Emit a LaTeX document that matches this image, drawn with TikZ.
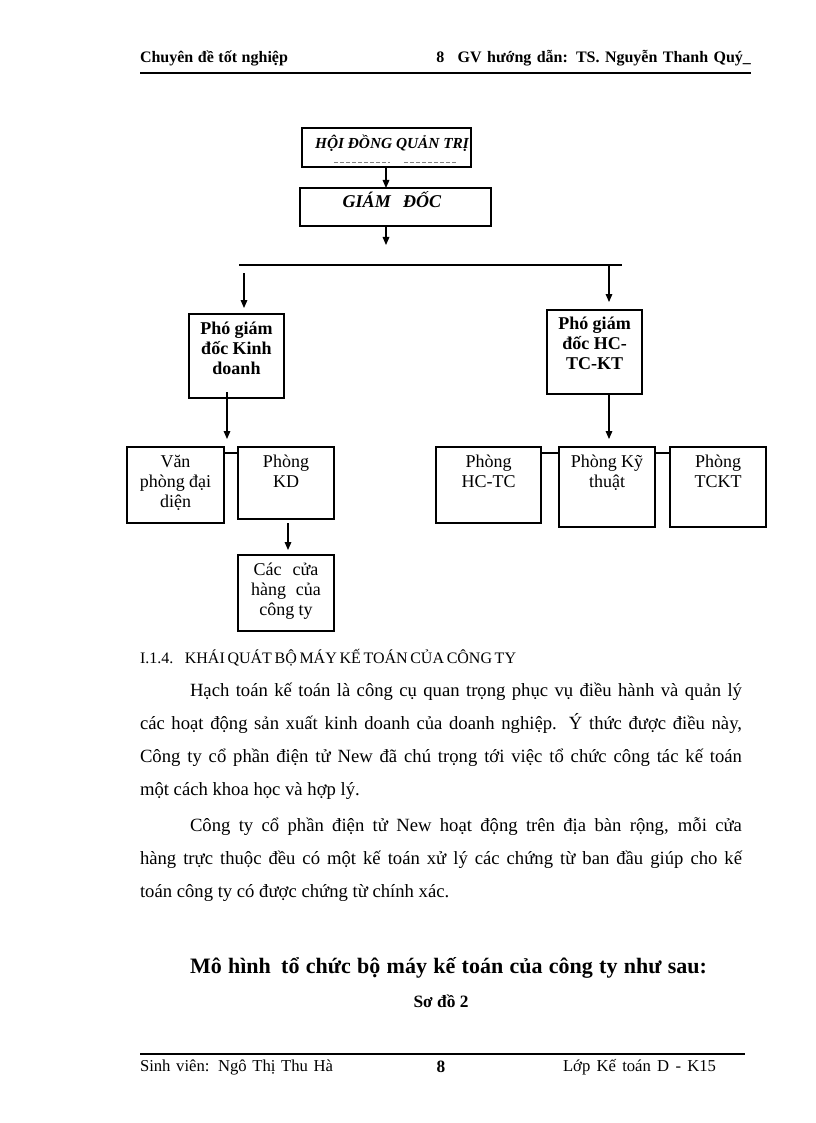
\documentclass[tikz,border=0pt]{standalone}
\usepackage{fontspec}
\setmainfont{Liberation Serif}
\usetikzlibrary{arrows.meta,fit}
\newcommand\bt[2]{\parbox[t]{#1}{\centering #2}}
\begin{document}
\begin{tikzpicture}[x=0.75pt,y=-0.75pt,
  every node/.style={inner sep=0pt, outer sep=0pt},
  orgbox/.style={draw, line width=0.8pt, inner sep=0pt, fit={#1}},
  conn/.style={line width=0.8pt},
  arr/.style={conn, -{Triangle[width=5pt,length=6pt]}},
  boxtxt/.style={anchor=base, font=\fontsize{13.5pt}{15pt}\selectfont},
  boldtxt/.style={anchor=base, font=\fontsize{13.5pt}{15pt}\selectfont\bfseries},
  body/.style={anchor=base west, font=\fontsize{14pt}{24.75pt}\selectfont},
  rule/.style={line width=1.1pt}
  ]
\fill[white] (0,0) rectangle (816,1123);
\useasboundingbox (0,0) rectangle (816,1123);

% header
\node[anchor=base west, font=\fontsize{12pt}{14pt}\selectfont\bfseries] (hl) at (140,63) {\makebox[111pt][s]{Chuyên đề tốt nghiệp}};
\node[anchor=base east, font=\fontsize{12pt}{14pt}\selectfont\bfseries] (hr) at (751,63) {\makebox[230pt][s]{8\hspace{6pt} GV hướng dẫn: TS. Nguyễn Thanh Quý}\_};
\draw[rule] (140,73) -- (751,73);

% boxes
\node[orgbox={(302,128)(471,167)}] (hdqt) {};
\node[orgbox={(300,188)(491,226)}] (gd) {};
\node[orgbox={(189,314)(284,398)}] (pkd) {};
\node[orgbox={(547,310)(642,394)}] (phc) {};
\node[orgbox={(127,447)(224,523)}] (vp) {};
\node[orgbox={(238,447)(334,519)}] (kd) {};
\node[orgbox={(238,555)(334,631)}] (ch) {};
\node[orgbox={(436,447)(541,523)}] (hctc) {};
\node[orgbox={(559,447)(655,527)}] (kt) {};
\node[orgbox={(670,447)(766,527)}] (tckt) {};

% box texts
\node[anchor=base, font=\fontsize{11.5pt}{13pt}\selectfont\bfseries\itshape] (hdqt-t) at (392,149) {HỘI ĐỒNG QUẢN TRỊ};
\draw[line width=0.6pt, gray, dash pattern=on 3pt off 1.5pt] (334,162) -- (390,162);
\draw[line width=0.6pt, gray, dash pattern=on 3pt off 1.5pt] (404,162) -- (456,162);
\node[anchor=base, font=\fontsize{13.5pt}{15pt}\selectfont\bfseries\itshape] (gd-t) at (392,208) {GIÁM\hspace{6pt} ĐỐC};
\node[boldtxt] (pkd-t) at ([yshift=-15pt]pkd.north) {\bt{70pt}{Phó giám\\đốc Kinh\\doanh}};
\node[boldtxt] (phc-t) at ([yshift=-14.5pt]phc.north) {\bt{70pt}{Phó giám\\đốc HC-\\TC-KT}};
\node[boxtxt] (vp-t) at ([yshift=-15pt]vp.north) {\bt{72pt}{Văn\\phòng đại\\diện}};
\node[boxtxt] (kd-t) at ([yshift=-15pt]kd.north) {\bt{72pt}{Phòng\\KD}};
\node[boxtxt] (ch-t) at ([yshift=-15pt]ch.north) {\bt{72pt}{Các\hspace{5pt} cửa\\hàng\hspace{4pt} của\\công ty}};
\node[boxtxt] (hctc-t) at ([yshift=-15pt]hctc.north) {\bt{78pt}{Phòng\\HC-TC}};
\node[boxtxt] (kt-t) at ([yshift=-15pt]kt.north) {\bt{72pt}{Phòng Kỹ\\thuật}};
\node[boxtxt] (tckt-t) at ([yshift=-15pt]tckt.north) {\bt{72pt}{Phòng\\TCKT}};

% connectors
\coordinate (x386) at (386,0);
\draw[arr] (hdqt.south -| x386) -- (gd.north -| x386);
\coordinate (gdend) at (386,245);
\draw[arr] (gd.south -| x386) -- (gdend);
\coordinate (busL) at (239,265);
\coordinate (busR) at (622,265);
\draw[conn] (busL) -- (busR);
\coordinate (la) at (244,273);
\draw[arr, shorten >=4.5pt] (la) -- (la |- pkd.north);
\coordinate (ra) at (609,265);
\draw[arr, shorten >=6pt] (ra) -- (ra |- phc.north);
\coordinate (x227) at (227,0);
\draw[arr, shorten <=-4.5pt, shorten >=6pt] (pkd.south -| x227) -- (vp.north -| x227);
\coordinate (x288) at (288,0);
\draw[arr, shorten <=3pt, shorten >=3.75pt] (kd.south -| x288) -- (ch.north -| x288);
\coordinate (x609) at (609,0);
\draw[arr, shorten >=6pt] (phc.south -| x609) -- (kt.north -| x609);
\coordinate (y453) at (0,453);
\draw[conn] (vp.east |- y453) -- (kd.west |- y453);
\draw[conn] (hctc.east |- y453) -- (kt.west |- y453);
\draw[conn] (kt.east |- y453) -- (tckt.west |- y453);

% text
\node[anchor=base west, font=\fontsize{12pt}{14pt}\selectfont] (h114) at (140,663) {\makebox[281.25pt][s]{I.1.4.\hspace{5pt} KHÁI QUÁT BỘ MÁY KẾ TOÁN CỦA CÔNG TY}};
\node[body] (p1) at (140,696) {\parbox[t]{451.5pt}{%
\hspace*{37.5pt}\makebox[414pt][s]{Hạch toán kế toán là công cụ quan trọng phục vụ điều hành và quản lý}\\
\makebox[451.5pt][s]{các hoạt động sản xuất kinh doanh của doanh nghiệp. Ý thức được điều này,}\\
\makebox[451.5pt][s]{Công ty cổ phần điện tử New đã chú trọng tới việc tổ chức công tác kế toán}\\
một cách khoa học và hợp lý.}};
\node[body] (p2) at (140,831) {\parbox[t]{451.5pt}{%
\hspace*{37.5pt}\makebox[414pt][s]{Công ty cổ phần điện tử New hoạt động trên địa bàn rộng, mỗi cửa}\\
\makebox[451.5pt][s]{hàng trực thuộc đều có một kế toán xử lý các chứng từ ban đầu giúp cho kế}\\
toán công ty có được chứng từ chính xác.}};
\node[anchor=base west, font=\fontsize{16.5pt}{20pt}\selectfont\bfseries] (title) at (190,973) {\makebox[387.75pt][s]{Mô hình\hspace{3pt} tổ chức bộ máy kế toán của công ty như sau:}};
\node[anchor=base, font=\fontsize{13pt}{15pt}\selectfont\bfseries] (sodo) at (441,1007) {Sơ đồ 2};

% footer
\draw[line width=0.8pt] (140,1054) -- (745,1054);
\node[anchor=base west, font=\fontsize{12.5pt}{14pt}\selectfont] (fl) at (140,1071) {\makebox[144.75pt][s]{Sinh viên: Ngô Thị Thu Hà}};
\node[anchor=base, font=\fontsize{13pt}{14pt}\selectfont\bfseries] (fc) at (441,1072) {8};
\node[anchor=base west, font=\fontsize{12.5pt}{14pt}\selectfont] (fr) at (563,1071) {\makebox[114.75pt][s]{Lớp Kế toán D - K15}};
\end{tikzpicture}
\end{document}
